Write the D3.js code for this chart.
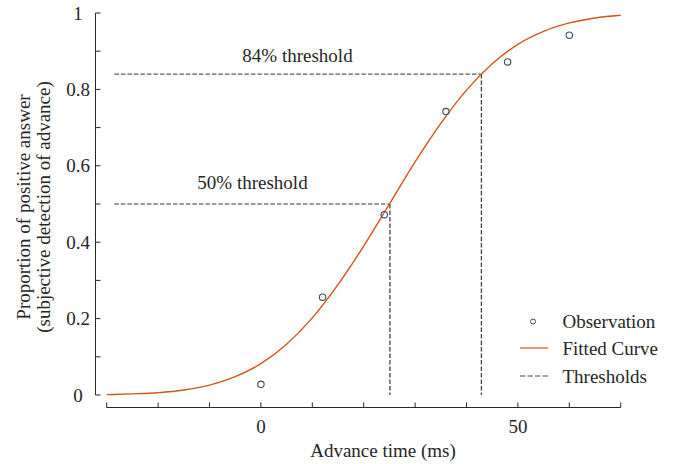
<!DOCTYPE html>
<html>
<head>
<meta charset="utf-8">
<script src="https://cdn.jsdelivr.net/npm/d3@7"></script>
<style>
  body { margin: 0; background: #fff; }
  text { font-family: "Liberation Serif", "Times New Roman", serif; fill: #262626; }
</style>
</head>
<body>
<script>
  // observations
  var obsX = [0, 12, 24, 36, 48, 60];
  var obsY = [0.028, 0.256, 0.472, 0.742, 0.872, 0.942];

  // fitted curve
  var fitX = [-30, -25, -20, -15, -10, -5, 0, 5, 10, 15, 20, 25, 30, 35, 40, 45, 50, 55, 60, 65, 70];
  var fitY = [0.001, 0.003, 0.006, 0.013, 0.026, 0.048, 0.082, 0.133, 0.202, 0.289, 0.39, 0.5,
              0.61, 0.711, 0.798, 0.867, 0.918, 0.952, 0.974, 0.987, 0.994];

  // thresholds
  var thrLevel = [0.5, 0.84];
  var thrX = [25.1, 42.9];
  var thrLabel = ["50% threshold", "84% threshold"];

  var xTicks = [-30, -20, -10, 0, 10, 20, 30, 40, 50, 60, 70];
  var xTickLabels = {0: "0", 50: "50"};
  var yTicks = [0, 0.1, 0.2, 0.3, 0.4, 0.5, 0.6, 0.7, 0.8, 0.9, 1];
  var yTickLabels = {0: "0", 0.2: "0.2", 0.4: "0.4", 0.6: "0.6", 0.8: "0.8", 1: "1"};

  var fs = 19;
  var axisColor = "#262626";

  var svg = d3.select("body")
    .append("svg")
    .attr("width", 684)
    .attr("height", 464);

  var x = d3.scaleLinear().domain([-30, 70]).range([106.7, 620.7]);
  var y = d3.scaleLinear().domain([0, 1]).range([395, 13]);

  var yAxisX = 95.5;
  var xAxisY = 407.5;

  // y axis (detached, ticks pointing in)
  svg.append("line")
    .attr("x1", yAxisX).attr("x2", yAxisX)
    .attr("y1", y(1)).attr("y2", y(0))
    .attr("stroke", axisColor);
  svg.selectAll("ytick")
    .data(yTicks)
    .enter()
    .append("line")
    .attr("x1", yAxisX).attr("x2", yAxisX + 5)
    .attr("y1", function(d) { return y(d); })
    .attr("y2", function(d) { return y(d); })
    .attr("stroke", axisColor);
  svg.selectAll("ylab")
    .data(yTicks.filter(function(d) { return yTickLabels[d] !== undefined; }))
    .enter()
    .append("text")
    .attr("x", 78)
    .attr("y", function(d) { return y(d); })
    .attr("dy", "0.35em")
    .attr("text-anchor", "middle")
    .attr("font-size", fs)
    .text(function(d) { return yTickLabels[d]; });

  // x axis
  svg.append("line")
    .attr("x1", x(-30)).attr("x2", x(70))
    .attr("y1", xAxisY).attr("y2", xAxisY)
    .attr("stroke", axisColor);
  svg.selectAll("xtick")
    .data(xTicks)
    .enter()
    .append("line")
    .attr("x1", function(d) { return x(d); })
    .attr("x2", function(d) { return x(d); })
    .attr("y1", xAxisY).attr("y2", xAxisY - 5)
    .attr("stroke", axisColor);
  svg.selectAll("xlab")
    .data(xTicks.filter(function(d) { return xTickLabels[d] !== undefined; }))
    .enter()
    .append("text")
    .attr("x", function(d) { return x(d); })
    .attr("y", 433)
    .attr("text-anchor", "middle")
    .attr("font-size", fs)
    .text(function(d) { return xTickLabels[d]; });

  // axis titles
  svg.append("text")
    .attr("x", 383).attr("y", 457)
    .attr("text-anchor", "middle")
    .attr("font-size", fs)
    .text("Advance time (ms)");
  var yt = svg.append("text")
    .attr("transform", "translate(30,207) rotate(-90)")
    .attr("text-anchor", "middle")
    .attr("font-size", fs);
  yt.append("tspan").attr("x", 0).attr("dy", 0).text("Proportion of positive answer");
  yt.append("tspan").attr("x", 0).attr("dy", 19.5).text("(subjective detection of advance)");

  // threshold lines
  var dash = "4.5,2";
  svg.selectAll("thrh")
    .data(thrLevel)
    .enter()
    .append("line")
    .attr("x1", x(-28.5))
    .attr("x2", function(d, i) { return x(thrX[i]); })
    .attr("y1", function(d) { return y(d); })
    .attr("y2", function(d) { return y(d); })
    .attr("stroke", "#333")
    .attr("stroke-dasharray", dash);
  svg.selectAll("thrv")
    .data(thrLevel)
    .enter()
    .append("line")
    .attr("x1", function(d, i) { return x(thrX[i]); })
    .attr("x2", function(d, i) { return x(thrX[i]); })
    .attr("y1", function(d) { return y(d); })
    .attr("y2", y(0))
    .attr("stroke", "#444")
    .attr("stroke-width", 1.3)
    .attr("stroke-dasharray", dash);

  // threshold labels
  svg.append("text")
    .attr("x", 252.5).attr("y", 189)
    .attr("text-anchor", "middle")
    .attr("font-size", fs)
    .text(thrLabel[0]);
  svg.append("text")
    .attr("x", 297.5).attr("y", 62)
    .attr("text-anchor", "middle")
    .attr("font-size", fs)
    .text(thrLabel[1]);

  // fitted curve
  var line = d3.line()
    .x(function(d, i) { return x(fitX[i]); })
    .y(function(d) { return y(d); })
    .curve(d3.curveMonotoneX);
  svg.append("path")
    .attr("d", line(fitY))
    .attr("fill", "none")
    .attr("stroke", "#d95319")
    .attr("stroke-width", 1.4);

  // observations
  svg.selectAll("obs")
    .data(obsY)
    .enter()
    .append("circle")
    .attr("cx", function(d, i) { return x(obsX[i]); })
    .attr("cy", function(d) { return y(d); })
    .attr("r", 3.2)
    .attr("fill", "none")
    .attr("stroke", "#34506b")
    .attr("stroke-width", 1.1);

  // legend
  var lg = svg.append("g");
  lg.append("circle")
    .attr("cx", 533).attr("cy", 321.5).attr("r", 2.5)
    .attr("fill", "none").attr("stroke", "#34506b").attr("stroke-width", 1);
  lg.append("line")
    .attr("x1", 520).attr("x2", 548).attr("y1", 348).attr("y2", 348)
    .attr("stroke", "#d95319").attr("stroke-width", 1.2);
  lg.append("line")
    .attr("x1", 520).attr("x2", 548).attr("y1", 376).attr("y2", 376)
    .attr("stroke", "#444").attr("stroke-dasharray", "5.3,2.2");
  var lgText = ["Observation", "Fitted Curve", "Thresholds"];
  lg.selectAll("lt")
    .data(lgText)
    .enter()
    .append("text")
    .attr("x", 562.5)
    .attr("y", function(d, i) { return 321.5 + i * 27.3; })
    .attr("dy", "0.35em")
    .attr("font-size", fs)
    .text(function(d) { return d; });
</script>
</body>
</html>
